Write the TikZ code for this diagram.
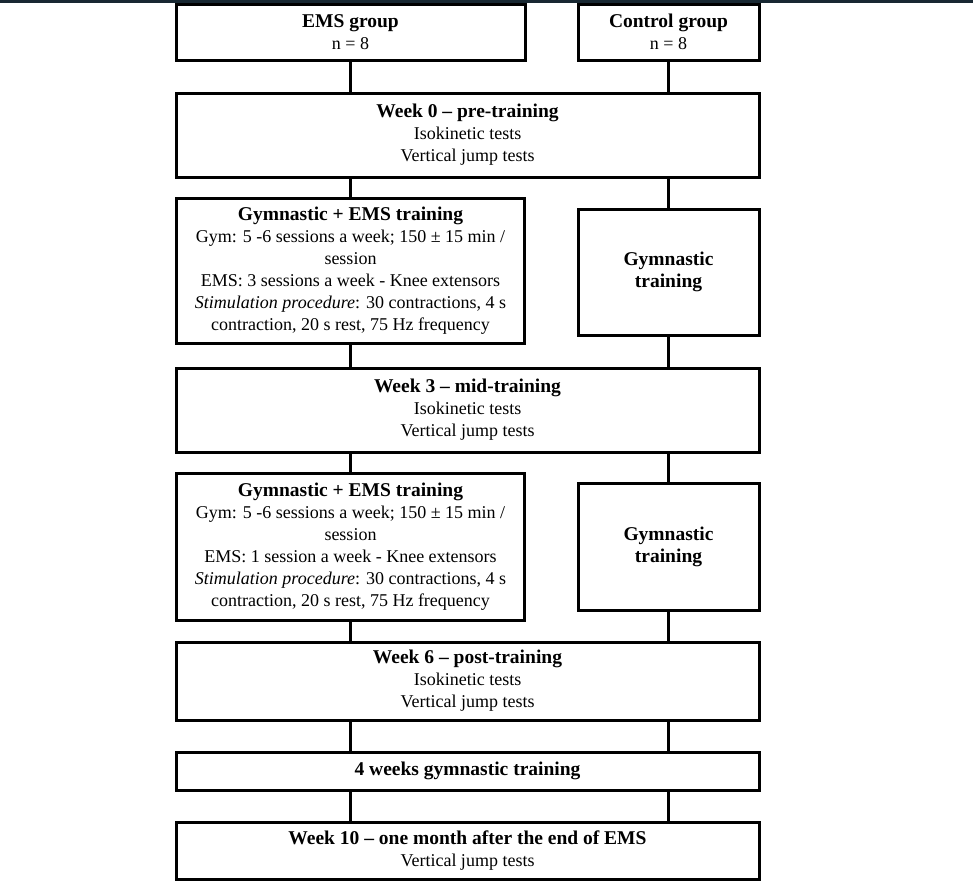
\documentclass[tikz,border=0pt]{standalone}
\usepackage{fontspec}
\setmainfont{Liberation Serif}
\definecolor{bandcol}{RGB}{24,40,50}
\tikzset{
  box/.style={draw=black, line width=3pt, fill=white, inner sep=0pt, align=center,
    font=\fontsize{18}{22}\selectfont},
  link/.style={draw=black, line width=3pt},
}
\newcommand{\hd}[1]{{\bfseries\fontsize{19.5}{22}\selectfont #1}}
\begin{document}
\begin{tikzpicture}[x=1pt,y=-1pt]
\useasboundingbox (0,0) rectangle (973,884);
\fill[bandcol] (0,0) rectangle (973,2.5);
% boxes
\node[box, minimum width=349pt, minimum height=56pt] (ems) at (350.5,32) {\hd{EMS group}\\n = 8};
\node[box, minimum width=181pt, minimum height=56pt] (ctrl) at (668.5,32) {\hd{Control group}\\n = 8};
\node[box, minimum width=583pt, minimum height=84pt] (w0) at (467.5,135) {\hd{Week 0 -- pre-training}\\Isokinetic tests\\Vertical jump tests};
\node[box, minimum width=348pt, minimum height=145pt] (g1) at (350.5,270.5) {\hd{Gymnastic + EMS training}\\Gym: 5 -6 sessions a week; 150 ± 15 min /\\session\\EMS: 3 sessions a week - Knee extensors\\\textit{Stimulation procedure}: 30 contractions, 4 s\\contraction, 20 s rest, 75 Hz frequency};
\node[box, minimum width=181pt, minimum height=126pt] (r1) at (668.5,272) {\hd{Gymnastic}\\\hd{training}};
\node[box, minimum width=583pt, minimum height=84pt] (w3) at (467.5,410) {\hd{Week 3 -- mid-training}\\Isokinetic tests\\Vertical jump tests};
\node[box, minimum width=348pt, minimum height=147pt] (g2) at (350.5,546.5) {\hd{Gymnastic + EMS training}\\Gym: 5 -6 sessions a week; 150 ± 15 min /\\session\\EMS: 1 session a week - Knee extensors\\\textit{Stimulation procedure}: 30 contractions, 4 s\\contraction, 20 s rest, 75 Hz frequency};
\node[box, minimum width=181pt, minimum height=127pt] (r2) at (668.5,546.5) {\hd{Gymnastic}\\\hd{training}};
\node[box, minimum width=583pt, minimum height=78pt] (w6) at (467.5,681) {\hd{Week 6 -- post-training}\\Isokinetic tests\\Vertical jump tests};
\node[box, minimum width=583pt, minimum height=38pt] (w4) at (467.5,771) {\hd{4 weeks gymnastic training}};
\node[box, minimum width=583pt, minimum height=57pt] (w10) at (467.5,850.5) {\hd{Week 10 -- one month after the end of EMS}\\Vertical jump tests};
% connectors
\draw[link] (ems.south) -- (ems.south |- w0.north);
\draw[link] (ctrl.south) -- (ctrl.south |- w0.north);
\draw[link] (g1.north |- w0.south) -- (g1.north);
\draw[link] (r1.north |- w0.south) -- (r1.north);
\draw[link] (g1.south) -- (g1.south |- w3.north);
\draw[link] (r1.south) -- (r1.south |- w3.north);
\draw[link] (g2.north |- w3.south) -- (g2.north);
\draw[link] (r2.north |- w3.south) -- (r2.north);
\draw[link] (g2.south) -- (g2.south |- w6.north);
\draw[link] (r2.south) -- (r2.south |- w6.north);
\draw[link] (g2.south |- w6.south) -- (g2.south |- w4.north);
\draw[link] (r2.south |- w6.south) -- (r2.south |- w4.north);
\draw[link] (g2.south |- w4.south) -- (g2.south |- w10.north);
\draw[link] (r2.south |- w4.south) -- (r2.south |- w10.north);
\end{tikzpicture}
\end{document}
